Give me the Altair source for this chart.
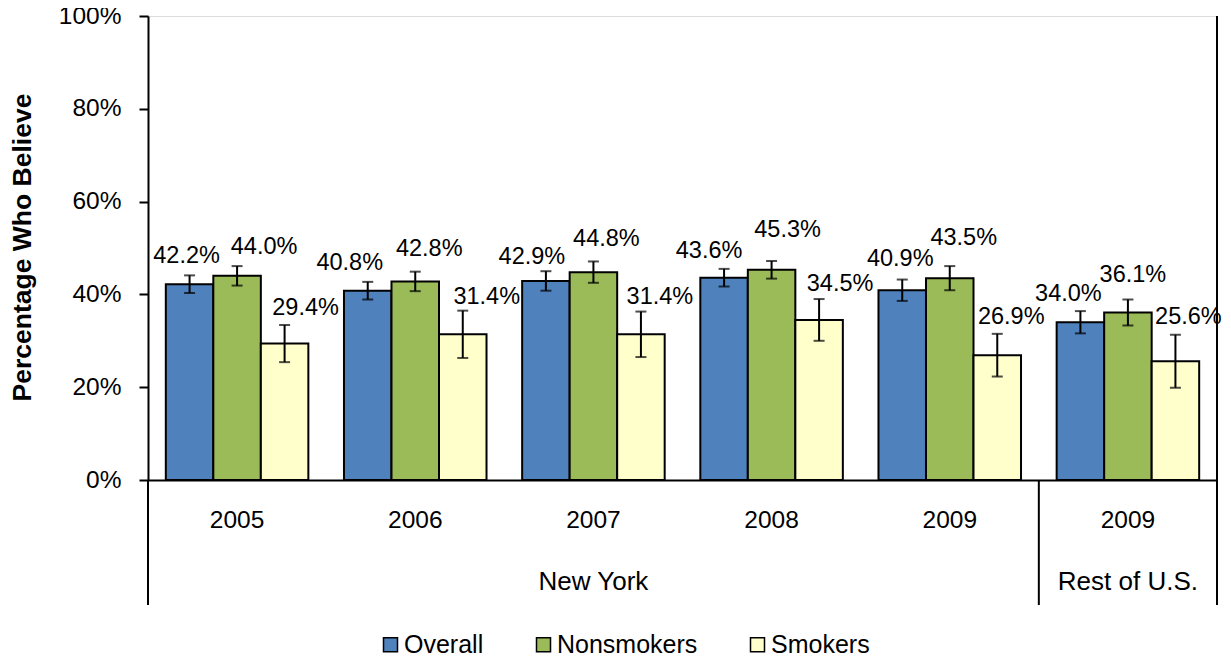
import altair as alt
import pandas as pd

regions = ["NY", "NY", "NY", "NY", "NY", "US"]
years = ["2005", "2006", "2007", "2008", "2009", "2009"]
series = ["Overall", "Nonsmokers", "Smokers"]
overall = [42.2, 40.8, 42.9, 43.6, 40.9, 34.0]
nonsmokers = [44.0, 42.8, 44.8, 45.3, 43.5, 36.1]
smokers = [29.4, 31.4, 31.4, 34.5, 26.9, 25.6]
err_overall = [1.9, 1.9, 2.1, 1.9, 2.3, 2.4]
err_nonsmokers = [2.1, 2.1, 2.3, 1.9, 2.6, 2.8]
err_smokers = [4.0, 5.1, 4.9, 4.5, 4.6, 5.7]
colors = ["#4F81BD", "#9BBB59", "#FFFFCC"]
group_names = ["New York", "Rest of U.S."]
group_centers = ["NY|2007", "US|2009"]

# label placement nudges in pixels (dx, dy from the error-bar top), per series and group
label_nudge = {
    "Overall": [(-3, -12), (-18, -12), (-14, -7), (-15, -11), (-2, -14), (-12, -10)],
    "Nonsmokers": [(27, -12), (14, -16), (13, -15), (16, -24), (14, -21), (5, -18)],
    "Smokers": [(21, -10), (24, -7), (19, -8), (21, -8), (14, -10), (13, -11)],
}

keys = [f"{r}|{y}" for r, y in zip(regions, years)]
rows = []
for s, vals, errs in zip(series, [overall, nonsmokers, smokers],
                         [err_overall, err_nonsmokers, err_smokers]):
    for k, v, e in zip(keys, vals, errs):
        rows.append({"key": k, "series": s, "value": v,
                     "lo": v - e, "hi": v + e, "label": f"{v:.1f}%"})
df = pd.DataFrame(rows)

FONT = "Liberation Sans"
W, H = 1069, 464

xscale = alt.Scale(domain=keys, paddingInner=0, paddingOuter=0)
xoff = alt.XOffset("series:N", scale=alt.Scale(domain=series, paddingInner=0, paddingOuter=0.375))
yscale = alt.Scale(domain=[0, 100], nice=False)

base = alt.Chart(df)

bars = base.mark_bar(stroke="black", strokeWidth=2).encode(
    x=alt.X("key:N", scale=xscale, sort=keys,
            axis=alt.Axis(title=None, labelExpr="split(datum.value, '|')[1]",
                          labelFontSize=24.5, labelFont=FONT, labelColor="black",
                          labelAngle=0, labelPadding=28, labelBaseline="top",
                          ticks=False, domainColor="black", domainWidth=2)),
    xOffset=xoff,
    y=alt.Y("value:Q", scale=yscale,
            axis=alt.Axis(title="Percentage Who Believe", values=[0, 20, 40, 60, 80, 100],
                          labelExpr="datum.value + '%'", labelFontSize=24.5, labelFont=FONT,
                          labelColor="black", labelPadding=18, tickSize=9, tickColor="black",
                          tickWidth=2, domainColor="black", domainWidth=2, grid=False,
                          titleFont=FONT, titleFontSize=26.5, titleFontWeight="bold",
                          titleColor="black", titleX=-126, titleY=231, titleAngle=-90,
                          titleAlign="center", titleBaseline="middle")),
    color=alt.Color("series:N", scale=alt.Scale(domain=series, range=colors),
                    legend=alt.Legend(title=None, orient="none", direction="horizontal",
                                      legendX=230, legendY=616, columns=3, columnPadding=47,
                                      symbolType="square", symbolSize=196,
                                      symbolStrokeColor="black", symbolStrokeWidth=1.5,
                                      labelFont=FONT, labelFontSize=25, labelColor="black",
                                      labelOffset=1)),
)

err = base.mark_rule(color="black", strokeWidth=2).encode(
    x=alt.X("key:N", scale=xscale, sort=keys), xOffset=xoff,
    y=alt.Y("lo:Q", scale=yscale), y2="hi:Q")

cap_lo = base.mark_tick(color="black", size=11, thickness=2).encode(
    x=alt.X("key:N", scale=xscale, sort=keys), xOffset=xoff,
    y=alt.Y("lo:Q", scale=yscale))
cap_hi = base.mark_tick(color="black", size=11, thickness=2).encode(
    x=alt.X("key:N", scale=xscale, sort=keys), xOffset=xoff,
    y=alt.Y("hi:Q", scale=yscale))

label_layers = []
for s in series:
    for k, (dx, dy) in zip(keys, label_nudge[s]):
        label_layers.append(
            base.transform_filter((alt.datum.key == k) & (alt.datum.series == s))
            .mark_text(font=FONT, fontSize=23.5, color="black", dx=dx, dy=dy,
                       baseline="alphabetic")
            .encode(x=alt.X("key:N", scale=xscale, sort=keys), xOffset=xoff,
                    y=alt.Y("hi:Q", scale=yscale), text="label:N")
        )

gdf = pd.DataFrame({"key": group_centers, "name": group_names})
glabels = alt.Chart(gdf).mark_text(font=FONT, fontSize=26, color="black",
                                   baseline="middle").encode(
    x=alt.X("key:N", scale=xscale, sort=keys), y=alt.value(566), text="name:N")

sdf = pd.DataFrame({"key": [keys[0], keys[-1]]})
sep_left = alt.Chart(sdf).mark_rule(color="black", strokeWidth=2).encode(
    x=alt.X("key:N", scale=xscale, sort=keys, bandPosition=0),
    y=alt.value(H), y2=alt.value(589))
sdf2 = pd.DataFrame({"key": [keys[-1]]})
sep_right = alt.Chart(sdf2).mark_rule(color="black", strokeWidth=2).encode(
    x=alt.X("key:N", scale=xscale, sort=keys, bandPosition=1),
    y=alt.value(0), y2=alt.value(589))

chart = alt.layer(bars, err, cap_lo, cap_hi, *label_layers, glabels, sep_left, sep_right).properties(
    width=W, height=H,
    autosize=alt.AutoSizeParams(type="none"),
    padding={"left": 140, "top": 8, "right": 6, "bottom": 178},
).configure_view(stroke="black", strokeWidth=2).configure(background="white")

chart.save("out.html", embed_options={"renderer": "svg", "actions": False})
